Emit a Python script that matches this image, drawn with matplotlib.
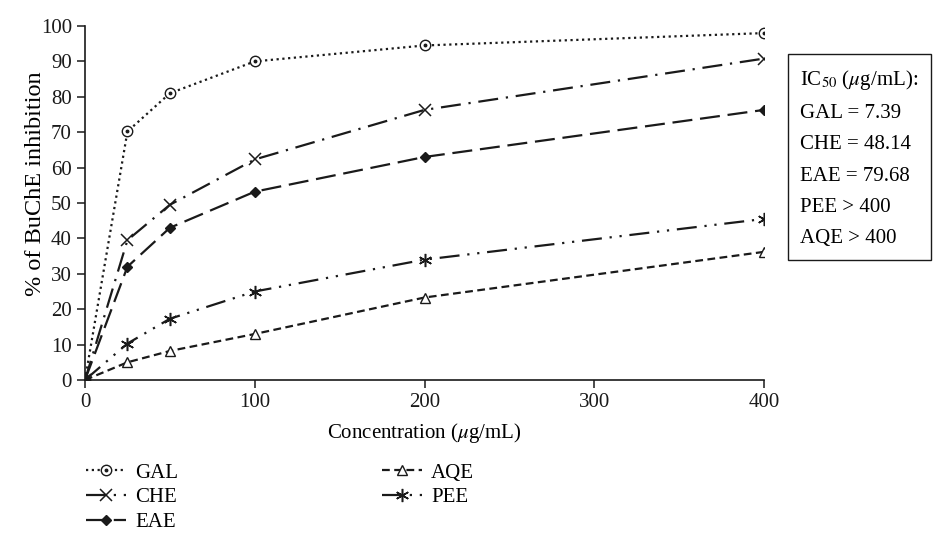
import matplotlib
matplotlib.use("Agg")
import matplotlib.pyplot as plt
from matplotlib.legend_handler import HandlerTuple

plt.rcParams['font.family'] = ['Liberation Serif', 'DejaVu Serif']
plt.rcParams['mathtext.fontset'] = 'stix'

# data
conc = [0, 25, 50, 100, 200, 400]
gal = [0, 70.2, 81.0, 90.0, 94.5, 98.0]
che = [0, 39.5, 49.5, 62.3, 76.3, 90.8]
eae = [0, 32.0, 43.0, 53.2, 63.0, 76.3]
pee = [0, 10.3, 17.3, 25.0, 34.0, 45.5]
aqe = [0, 5.0, 8.2, 13.0, 23.3, 36.2]

x_ticks = [0, 100, 200, 300, 400]
y_ticks = list(range(0, 101, 10))
ic50_lines = ["IC$_{50}$ ($\\mu$g/mL):", "GAL = 7.39", "CHE = 48.14",
              "EAE = 79.68", "PEE > 400", "AQE > 400"]

fs = 15
fig = plt.figure(figsize=(9.37, 5.34), dpi=100)
ax = fig.add_axes([85 / 937, 1 - 380 / 534, (764 - 85) / 937, (380 - 26) / 534])

lw = 1.6
k = '#1a1a1a'
# GAL: dotted line, open circle with a dot inside
l_gal, = ax.plot(conc, gal, color=k, lw=lw, linestyle=(0, (1, 1.6)),
                 marker='o', ms=7.5, mfc='white', mec=k, mew=1.0)
d_gal, = ax.plot(conc, gal, color=k, lw=0, marker='o', ms=1.8, mec=k, mfc=k)
l_che, = ax.plot(conc, che, color=k, lw=lw, linestyle=(0, (9, 3.5, 1, 3.5)),
                 marker='x', ms=8.5, mew=1.1)
l_eae, = ax.plot(conc, eae, color=k, lw=lw, linestyle=(0, (9, 3.5)),
                 marker='D', ms=5.5, mfc=k, mec=k)
l_aqe, = ax.plot(conc, aqe, color=k, lw=lw, linestyle=(0, (3.5, 2)),
                 marker='^', ms=7.5, mfc='white', mec=k, mew=1.0)
l_pee, = ax.plot(conc, pee, color=k, lw=lw, linestyle=(0, (9, 3.5, 1, 3.5, 1, 3.5)),
                 marker=(6, 2, 0), ms=9.5, mew=1.1)

ax.set_xlim(0, 400)
ax.set_ylim(0, 100)
ax.set_xticks(x_ticks)
ax.set_yticks(y_ticks)
ax.spines['top'].set_visible(False)
ax.spines['right'].set_visible(False)
for s in ['left', 'bottom']:
    ax.spines[s].set_linewidth(1.2)
    ax.spines[s].set_color(k)
ax.tick_params(direction='out', length=6, width=1.1, labelsize=fs, colors=k)
ax.set_xlabel("Concentration ($\\mu$g/mL)", fontsize=fs, labelpad=6)
ax.set_ylabel("% of BuChE inhibition", fontsize=17.5)
ax.yaxis.set_label_coords(-0.058, 0.554)

fig.legend([(l_gal, d_gal), l_che, l_eae, l_aqe, l_pee],
           ["GAL", "CHE", "EAE", "AQE", "PEE"],
           handler_map={tuple: HandlerTuple(ndivide=1, pad=0)},
           loc='upper left', bbox_to_anchor=(86 / 937, 1 - 463 / 534),
           borderaxespad=0, borderpad=0,
           ncol=2, frameon=False, fontsize=fs, handlelength=1.9,
           columnspacing=9.8, labelspacing=0.25, handletextpad=0.45)

fig.text(800 / 937, 1 - 158 / 534, "\n".join(ic50_lines), fontsize=fs,
         va='center', ha='left', linespacing=1.86,
         bbox=dict(boxstyle='square,pad=0.6', fc='white', ec=k, lw=1.0))

fig.savefig("out.png", dpi=100)
